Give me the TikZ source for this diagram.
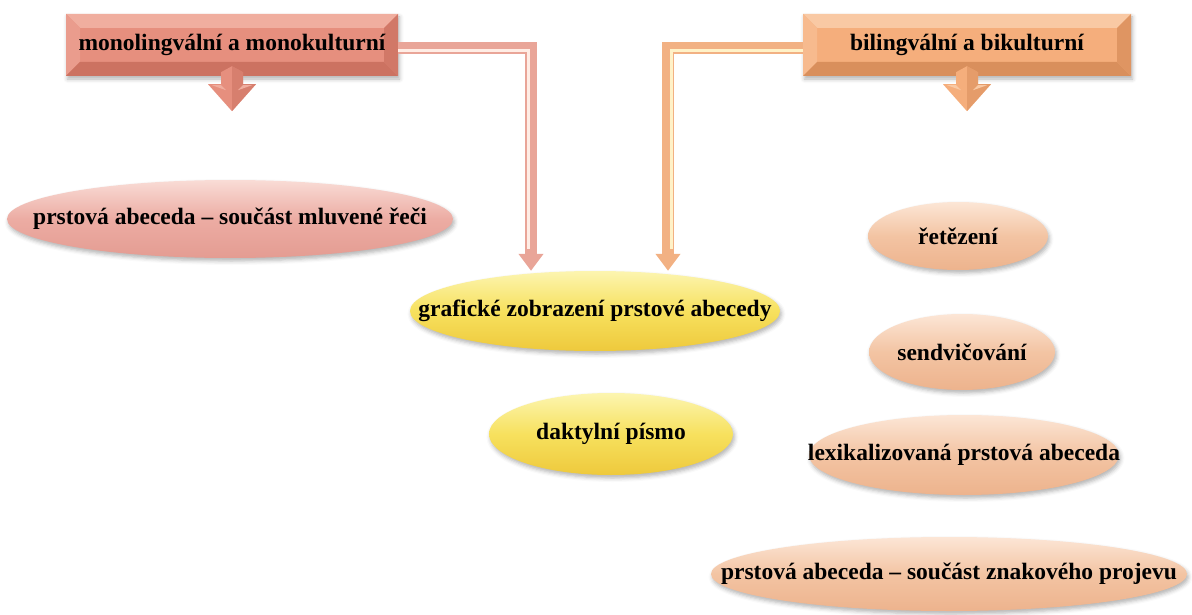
\documentclass[tikz,border=0pt]{standalone}
\usepackage{fontspec}
\setmainfont{Liberation Serif}
\usetikzlibrary{shapes.geometric,calc,arrows.meta,shadows.blur}

% palette
\definecolor{monoface}{HTML}{E68F7E}
\definecolor{monolight}{HTML}{F0AE9F}
\definecolor{monomid}{HTML}{EA9C8D}
\definecolor{monodark}{HTML}{CC7261}
\definecolor{monoband}{HTML}{E9A598}
\definecolor{monohl}{HTML}{FFEDE5}
\definecolor{biface}{HTML}{F5AE7C}
\definecolor{bilight}{HTML}{F9C9A4}
\definecolor{bimid}{HTML}{F7BA8E}
\definecolor{bidark}{HTML}{D98F5C}
\definecolor{biband}{HTML}{F2B183}
\definecolor{bihl}{HTML}{FFF2C8}
\definecolor{pinktop}{HTML}{F9DCD6}
\definecolor{pinkmid}{HTML}{ECACA3}
\definecolor{pinkbot}{HTML}{E49C92}
\definecolor{peachtop}{HTML}{FCE6D6}
\definecolor{peachmid}{HTML}{F3C4A3}
\definecolor{peachbot}{HTML}{EDB38D}
\definecolor{yeltop}{HTML}{FCF5B0}
\definecolor{yelmid}{HTML}{F7E15E}
\definecolor{yelbot}{HTML}{EEC93C}

\tikzset{
  % bevelled title box: #1 top, #2 left, #3 bottom, #4 right facets
  bevel/.style n args={4}{path picture={
    \coordinate (bnw) at (path picture bounding box.north west);
    \coordinate (bne) at (path picture bounding box.north east);
    \coordinate (bsw) at (path picture bounding box.south west);
    \coordinate (bse) at (path picture bounding box.south east);
    \fill[#1] (bnw) -- (bne) -- ($(bne)+(-14pt,-14pt)$) -- ($(bnw)+(14pt,-14pt)$) -- cycle;
    \fill[#2] (bnw) -- ($(bnw)+(14pt,-14pt)$) -- ($(bsw)+(14pt,14pt)$) -- (bsw) -- cycle;
    \fill[#3] (bsw) -- ($(bsw)+(14pt,14pt)$) -- ($(bse)+(-14pt,14pt)$) -- (bse) -- cycle;
    \fill[#4] (bse) -- ($(bse)+(-14pt,14pt)$) -- ($(bne)+(-14pt,-14pt)$) -- (bne) -- cycle;
  }},
  softshadow/.style={blur shadow={shadow xshift=1.5pt, shadow yshift=-3pt,
    shadow blur radius=4pt, shadow opacity=30}},
  titlebox/.style={rectangle, inner sep=0pt, minimum height=62pt, softshadow},
  monobox/.style={titlebox, fill=monoface, bevel={monolight}{monomid}{monodark}{monodark!80!monoface}},
  bibox/.style={titlebox, fill=biface, bevel={bilight}{bimid}{bidark}{bidark!80!biface}},
  oval/.style={ellipse, inner sep=0pt, softshadow},
  pinkoval/.style={oval, top color=pinktop, bottom color=pinkbot, middle color=pinkmid},
  peachoval/.style={oval, top color=peachtop, bottom color=peachbot, middle color=peachmid},
  yeloval/.style={oval, top color=yeltop, bottom color=yelbot, middle color=yelmid},
  lbl/.style={font=\fontsize{23.5}{28}\selectfont\bfseries, inner sep=0pt},
  band/.style={line width=12pt, -{Triangle[width=24pt,length=17pt]}},
  hl/.style={line width=3pt, line join=miter},
}

\begin{document}
\begin{tikzpicture}[x=1pt,y=-1pt]
\useasboundingbox (0,0) rectangle (1192,615);

% title boxes
\node[monobox, minimum width=332pt] (mono) at (232,45) {};
\node[lbl] (monoT) at (mono) {monolingvální a monokulturní};
\node[bibox, minimum width=328pt] (bi) at (967,45) {};
\node[lbl] (biT) at (bi) {bilingvální a bikulturní};

% ovals
\node[pinkoval, minimum width=446pt, minimum height=78pt] (mluv) at (230,219) {};
\node[lbl] (mluvT) at (mluv) {prstová abeceda – součást mluvené řeči};
\node[yeloval, minimum width=370pt, minimum height=80pt] (graf) at (595,311) {};
\node[lbl] (grafT) at (graf) {grafické zobrazení prstové abecedy};
\node[yeloval, minimum width=244pt, minimum height=82pt] (dakt) at (611,434) {};
\node[lbl] (daktT) at (dakt) {daktylní písmo};
\node[peachoval, minimum width=180pt, minimum height=68pt] (ret) at (958,236) {};
\node[lbl] (retT) at (ret) {řetězení};
\node[peachoval, minimum width=186pt, minimum height=76pt] (send) at (962,352) {};
\node[lbl] (sendT) at (send) {sendvičování};
\node[peachoval, minimum width=310pt, minimum height=80pt] (lex) at (964,455) {};
\node[lbl] (lexT) at (lex) {lexikalizovaná prstová abeceda};
\node[peachoval, minimum width=476pt, minimum height=74pt] (znak) at (949,574) {};
\node[lbl] (znakT) at (znak) {prstová abeceda – součást znakového projevu};

% elbow connectors from the title boxes to the shared oval
\coordinate (lx) at (531,0);
\coordinate (rx) at (668,0);
\draw[band, monoband] ([yshift=-3pt]mono.east) -| (lx |- graf.north);
\draw[hl, monohl] ([yshift=-6pt]mono.east) -| ($(lx |- graf.north)+(-3pt,22pt)$);
\draw[band, biband] ([yshift=-3pt]bi.west) -| (rx |- graf.north);
\draw[hl, bihl] ([yshift=-6pt]bi.west) -| ($(rx |- graf.north)+(3pt,22pt)$);

% short block arrows under the title boxes
\foreach \b/\lc/\dc in {mono/monolight/monodark, bi/bilight/bidark}{
  \fill[\b face] ($(\b.south)+(0pt,10pt)$) -- ($(\b.south)+(-11pt,4pt)$) -- ($(\b.south)+(-11pt,-8pt)$)
     -- ($(\b.south)+(-24pt,-8pt)$) -- ($(\b.south)+(0pt,-35pt)$) -- ($(\b.south)+(24pt,-8pt)$)
     -- ($(\b.south)+(11pt,-8pt)$) -- ($(\b.south)+(11pt,4pt)$) -- cycle;
  \fill[\dc, opacity=0.55] ($(\b.south)+(0pt,10pt)$) -- ($(\b.south)+(11pt,4pt)$) -- ($(\b.south)+(11pt,-8pt)$)
     -- ($(\b.south)+(24pt,-8pt)$) -- ($(\b.south)+(0pt,-35pt)$) -- cycle;
  \fill[\lc] ($(\b.south)+(-20pt,-9pt)$) -- ($(\b.south)+(-11pt,-9pt)$) -- ($(\b.south)+(-6pt,-14pt)$) -- cycle;
  \fill[\lc] ($(\b.south)+(20pt,-9pt)$) -- ($(\b.south)+(11pt,-9pt)$) -- ($(\b.south)+(6pt,-14pt)$) -- cycle;
}
\end{tikzpicture}
\end{document}
